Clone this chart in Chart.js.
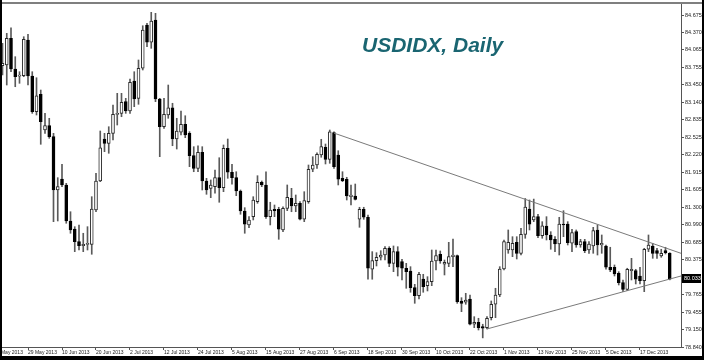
<!DOCTYPE html>
<html>
<head>
<meta charset="utf-8">
<script src="https://cdn.jsdelivr.net/npm/chart.js@4.4.1/dist/chart.umd.min.js"></script>
<style>
  html, body { margin: 0; padding: 0; background: #fff; }
  #wrap { width: 704px; height: 360px; position: relative; }
</style>
</head>
<body>
<div id="wrap"><canvas id="chart" width="704" height="360"></canvas></div>
<script>
// Daily OHLC of the USD index, one entry per trading day
const opens = [
  83.784, 83.797, 84.266, 83.726, 83.600, 83.609, 84.236, 83.603, 82.976, 83.282,
  82.654, 82.730, 82.537, 81.600, 81.793, 81.688, 81.055, 80.914, 80.691, 80.621,
  80.645, 80.645, 81.248, 81.758, 82.496, 82.420, 82.596, 82.930, 82.947, 83.152,
  82.988, 83.515, 83.211, 83.739, 84.500, 84.196, 84.587, 83.199, 82.712, 82.918,
  83.046, 82.496, 82.614, 82.754, 82.596, 82.203, 81.981, 82.262, 81.758, 81.629,
  81.658, 81.816, 81.640, 82.333, 81.911, 81.816, 81.582, 81.231, 80.985, 81.131,
  81.395, 81.735, 81.688, 81.131, 81.261, 81.261, 80.897, 81.278, 81.454, 81.319,
  81.366, 81.085, 81.395, 81.964, 82.039, 82.215, 82.350, 82.139, 82.607, 82.215,
  81.805, 81.788, 81.482, 81.494, 81.085, 81.261, 81.120, 80.206, 80.357, 80.417,
  80.457, 80.575, 80.311, 80.516, 80.340, 80.224, 80.176, 79.883, 79.742, 80.036,
  79.918, 79.989, 80.352, 80.470, 80.294, 80.311, 80.428, 80.445, 79.649, 79.626,
  79.684, 79.240, 79.275, 79.197, 79.180, 79.356, 79.591, 79.754, 80.211, 80.545,
  80.545, 80.680, 80.487, 80.821, 81.266, 81.073, 81.131, 80.797, 80.967, 80.809,
  80.733, 80.651, 81.002, 81.002, 80.663, 80.867, 80.633, 80.691, 80.545, 80.616,
  80.897, 80.633, 80.616, 80.241, 80.241, 80.136, 79.971, 79.854, 80.182, 80.182,
  80.088, 80.006, 80.558, 80.616, 80.533, 80.440, 80.533, 80.487
];
const highs = [
  84.178, 84.354, 84.452, 83.943, 83.679, 84.294, 84.336, 83.679, 83.573, 83.357,
  82.947, 82.860, 82.596, 81.816, 82.051, 81.717, 81.218, 80.955, 80.985, 80.839,
  80.955, 81.482, 81.893, 82.637, 82.596, 82.712, 83.094, 83.299, 83.299, 83.211,
  83.551, 83.679, 83.885, 84.487, 84.529, 84.723, 84.705, 83.211, 83.211, 83.445,
  83.124, 82.860, 82.988, 82.905, 82.625, 82.361, 82.378, 82.361, 81.805, 81.776,
  81.951, 82.167, 82.391, 82.496, 82.051, 81.921, 81.600, 81.289, 81.131, 81.482,
  81.851, 81.758, 81.921, 81.384, 81.336, 81.296, 81.306, 81.688, 81.629, 81.512,
  81.395, 81.570, 82.039, 82.185, 82.255, 82.491, 82.408, 82.654, 82.624, 82.290,
  81.921, 81.823, 81.688, 81.705, 81.296, 81.296, 81.160, 80.516, 80.498, 80.533,
  80.603, 80.603, 80.616, 80.603, 80.382, 80.311, 80.252, 79.942, 80.153, 80.118,
  80.076, 80.545, 80.545, 80.528, 80.369, 80.680, 80.739, 80.457, 79.707, 79.784,
  79.754, 79.373, 79.345, 79.240, 79.373, 79.649, 79.872, 80.252, 80.721, 80.897,
  80.779, 80.779, 80.927, 81.450, 81.424, 81.440, 81.173, 81.043, 81.131, 80.867,
  80.779, 81.120, 81.236, 81.043, 80.909, 80.897, 80.733, 80.733, 80.691, 80.944,
  80.985, 80.809, 80.633, 80.593, 80.282, 80.164, 80.018, 80.224, 80.399, 80.206,
  80.241, 80.575, 80.809, 80.663, 80.575, 80.558, 80.593, 80.498
];
const lows = [
  83.621, 83.445, 83.679, 83.415, 83.475, 83.591, 83.445, 82.947, 82.918, 82.403,
  82.596, 82.508, 81.043, 81.055, 81.658, 81.015, 80.839, 80.516, 80.545, 80.516,
  80.545, 80.470, 81.218, 81.746, 82.273, 82.245, 82.479, 82.742, 82.888, 82.947,
  82.947, 83.064, 83.106, 83.709, 84.118, 84.090, 83.152, 82.185, 82.684, 82.860,
  82.378, 82.320, 82.566, 82.519, 82.010, 81.921, 81.921, 81.600, 81.524, 81.465,
  81.542, 81.384, 81.570, 81.805, 81.700, 81.500, 81.173, 80.839, 80.937, 81.073,
  81.366, 81.658, 81.102, 80.985, 81.131, 80.733, 80.867, 81.236, 81.218, 81.218,
  81.073, 81.043, 81.366, 81.921, 81.981, 82.175, 82.057, 82.069, 81.981, 81.688,
  81.746, 81.424, 81.336, 81.424, 80.944, 81.085, 80.031, 80.031, 80.264, 80.369,
  80.369, 80.252, 80.164, 80.088, 80.018, 79.872, 79.802, 79.608, 79.684, 79.802,
  79.825, 79.918, 80.194, 80.311, 80.106, 80.252, 80.252, 79.608, 79.461, 79.591,
  79.227, 79.180, 79.139, 79.000, 79.157, 79.315, 79.356, 79.725, 80.194, 80.487,
  80.428, 80.387, 80.457, 80.751, 80.897, 81.043, 80.762, 80.751, 80.721, 80.558,
  80.516, 80.457, 80.779, 80.633, 80.516, 80.593, 80.593, 80.498, 80.487, 80.487,
  80.457, 80.487, 80.206, 80.164, 80.088, 79.930, 79.812, 79.830, 80.018, 79.948,
  79.948, 79.812, 80.516, 80.399, 80.399, 80.417, 80.475, 80.020
];
const closes = [
  83.827, 84.266, 83.726, 83.591, 83.612, 84.248, 83.603, 82.976, 83.257, 82.800,
  82.730, 82.537, 81.600, 81.658, 81.688, 81.055, 80.897, 80.691, 80.621, 80.645,
  80.663, 81.266, 81.758, 82.343, 82.420, 82.596, 82.930, 82.947, 83.141, 82.988,
  83.493, 83.199, 83.739, 84.412, 84.196, 84.570, 83.199, 82.712, 82.930, 83.046,
  82.496, 82.637, 82.754, 82.566, 82.203, 81.981, 82.262, 81.758, 81.600, 81.688,
  81.816, 81.640, 82.333, 81.911, 81.816, 81.582, 81.231, 80.997, 81.073, 81.424,
  81.735, 81.688, 81.131, 81.248, 81.236, 80.909, 81.278, 81.471, 81.319, 81.366,
  81.085, 81.412, 81.964, 82.039, 82.227, 82.361, 82.139, 82.624, 82.010, 81.788,
  81.763, 81.494, 81.512, 81.436, 81.261, 81.120, 80.224, 80.357, 80.417, 80.457,
  80.575, 80.311, 80.516, 80.241, 80.224, 80.164, 79.883, 79.742, 80.118, 79.900,
  79.989, 80.352, 80.445, 80.352, 80.329, 80.428, 80.457, 79.637, 79.608, 79.666,
  79.240, 79.275, 79.180, 79.169, 79.345, 79.591, 79.754, 80.211, 80.691, 80.680,
  80.663, 80.487, 80.821, 81.300, 81.000, 81.131, 80.797, 80.972, 80.809, 80.721,
  80.651, 81.002, 80.985, 80.674, 80.850, 80.633, 80.691, 80.533, 80.651, 80.885,
  80.633, 80.663, 80.241, 80.194, 80.123, 79.971, 79.854, 80.206, 80.206, 80.031,
  80.006, 80.558, 80.633, 80.487, 80.487, 80.487, 80.498, 80.033
];

// Date labels on the time axis: bar index and text
const dateTickBars = [-2, 6, 14, 22, 30, 38, 46, 54, 62, 70, 78, 86, 94, 102, 110, 118, 126, 134, 142, 150];
const dateTickLabels = [
  '17 May 2013', '29 May 2013', '10 Jun 2013', '20 Jun 2013', '2 Jul 2013', '12 Jul 2013',
  '24 Jul 2013', '5 Aug 2013', '15 Aug 2013', '27 Aug 2013', '6 Sep 2013', '18 Sep 2013',
  '30 Sep 2013', '10 Oct 2013', '22 Oct 2013', '1 Nov 2013', '13 Nov 2013', '25 Nov 2013',
  '5 Dec 2013', '17 Dec 2013'
];

// Price scale labels
const priceTicks = [84.675, 84.370, 84.065, 83.755, 83.450, 83.140, 82.835, 82.525, 82.220,
  81.915, 81.605, 81.300, 80.990, 80.685, 80.375, 79.765, 79.455, 79.150, 78.840];

// Triangle trend lines (bar index, price)
const upperTrendBars = [78, 159.65];
const upperTrendPrices = [82.600, 80.487];
const lowerTrendBars = [114, 159.65];
const lowerTrendPrices = [79.157, 80.088];

const FONT = 'Liberation Sans';
const isBull = i => closes[i] >= opens[i];

// Frame around the chart window
const framePlugin = {
  id: 'frame',
  afterDraw(chart) {
    const ctx = chart.ctx;
    ctx.save();
    ctx.fillStyle = '#000';
    ctx.fillRect(0, 0, 2, 360);
    ctx.fillRect(702, 0, 2, 360);
    ctx.fillRect(0, 356, 704, 4);
    ctx.fillRect(0, 2.5, 704, 1);
    ctx.restore();
  }
};

// Last price marker on the price scale
const lastPricePlugin = {
  id: 'lastPrice',
  afterDraw(chart) {
    const ctx = chart.ctx;
    const y = chart.scales.y.getPixelForValue(closes[closes.length - 1]) - 1.5;
    ctx.save();
    ctx.fillStyle = '#000';
    ctx.fillRect(682, Math.round(y) - 4, 19, 9);
    ctx.fillStyle = '#fff';
    ctx.font = `5.5px "${FONT}"`;
    ctx.textBaseline = 'middle';
    ctx.textAlign = 'left';
    ctx.fillText(closes[closes.length - 1].toFixed(3), 684, Math.round(y) + 0.5);
    ctx.restore();
  }
};

// Chart heading
const headingPlugin = {
  id: 'heading',
  afterDraw(chart) {
    const ctx = chart.ctx;
    ctx.save();
    ctx.fillStyle = '#1a6571';
    ctx.font = `italic bold 21px "${FONT}"`;
    ctx.textBaseline = 'alphabetic';
    ctx.textAlign = 'left';
    ctx.fillText('USDIDX, Daily', 362, 52);
    ctx.restore();
  }
};

const bodies = opens.map((o, i) => ({ x: i, y: [o, closes[i]] }));
const wicks = lows.map((l, i) => ({ x: i, y: [l, highs[i]] }));

// Fixed axis sizes, no extra room for edge labels
const fixAxis = (s, size) => {
  if (s.isHorizontal()) s.height = size; else s.width = size;
  s.paddingLeft = 0; s.paddingRight = 0; s.paddingTop = 0; s.paddingBottom = 0;
};

new Chart(document.getElementById('chart'), {
  type: 'bar',
  data: {
    datasets: [
      {
        type: 'line',
        data: upperTrendBars.map((b, i) => ({ x: b, y: upperTrendPrices[i] })),
        borderColor: '#7a7a7a', borderWidth: 1, pointRadius: 0, tension: 0, fill: false, order: 0
      },
      {
        type: 'line',
        data: lowerTrendBars.map((b, i) => ({ x: b, y: lowerTrendPrices[i] })),
        borderColor: '#7a7a7a', borderWidth: 1, pointRadius: 0, tension: 0, fill: false, order: 0
      },
      {
        type: 'bar',
        data: bodies,
        grouped: false,
        barThickness: 3,
        minBarLength: 1,
        borderSkipped: false,
        borderWidth: 1,
        borderColor: c => isBull(c.dataIndex) ? '#2a2a2a' : '#000',
        backgroundColor: c => isBull(c.dataIndex) ? '#fff' : '#000',
        order: 1
      },
      {
        type: 'bar',
        data: wicks,
        grouped: false,
        barThickness: 1,
        borderWidth: 0,
        backgroundColor: '#5a5a5a',
        order: 2
      }
    ]
  },
  options: {
    responsive: false,
    animation: false,
    devicePixelRatio: 1,
    layout: { padding: { left: 2, top: 4, right: 2, bottom: 4 } },
    plugins: { legend: { display: false }, tooltip: { enabled: false }, title: { display: false } },
    scales: {
      x: {
        type: 'linear',
        position: 'bottom',
        min: -0.118,
        max: 159.65,
        offset: false,
        afterBuildTicks: s => { s.ticks = dateTickBars.map(v => ({ value: v })); },
        afterFit: s => fixAxis(s, 9),
        grid: { display: true, drawOnChartArea: false, drawTicks: true, tickLength: 3, color: '#555', offset: false },
        border: { display: true, color: '#555', width: 1 },
        ticks: {
          autoSkip: false, maxRotation: 0, minRotation: 0, align: 'start', padding: 0,
          color: '#222', font: { family: FONT, size: 5 },
          callback: (v, i) => dateTickLabels[i]
        }
      },
      y: {
        type: 'linear',
        position: 'right',
        min: 78.840,
        max: 84.869,
        afterBuildTicks: s => { s.ticks = priceTicks.map(v => ({ value: v })); },
        afterFit: s => fixAxis(s, 21),
        grid: { display: true, drawOnChartArea: false, drawTicks: true, tickLength: 3, color: '#555' },
        border: { display: true, color: '#555', width: 1 },
        ticks: {
          padding: 1, color: '#222', font: { family: FONT, size: 5.5 },
          callback: v => Number(v).toFixed(3)
        }
      }
    }
  },
  plugins: [framePlugin, lastPricePlugin, headingPlugin]
});
</script>
</body>
</html>
